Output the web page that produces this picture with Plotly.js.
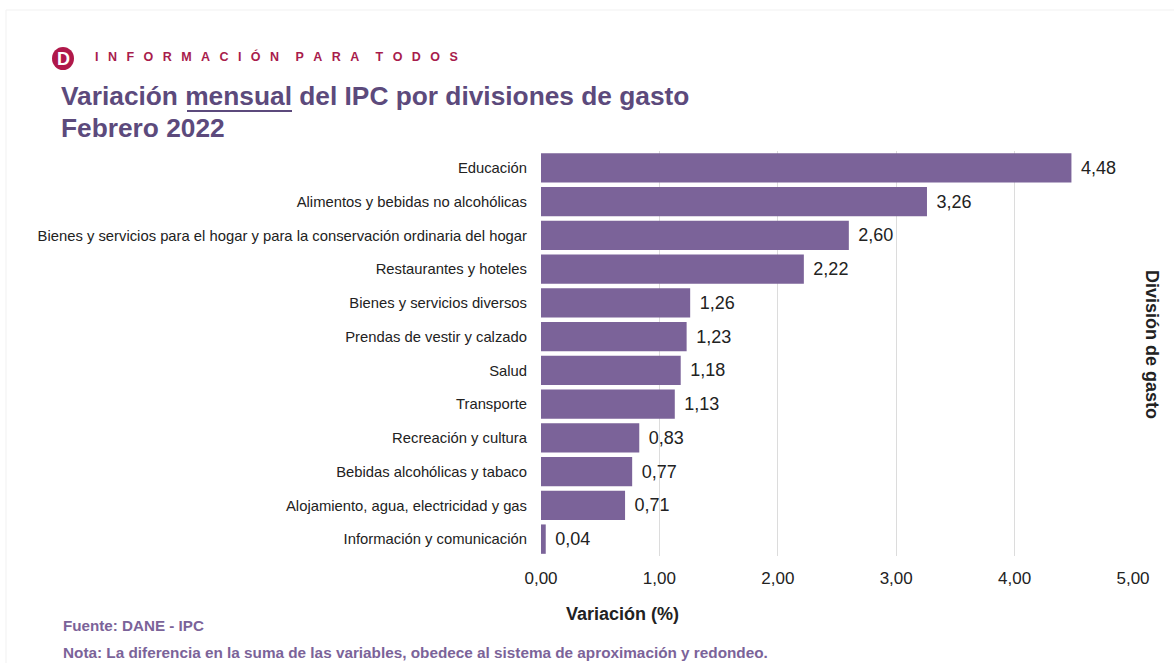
<!DOCTYPE html>
<html><head><meta charset="utf-8">
<script src="https://cdn.plot.ly/plotly-3.0.1.min.js"></script>
<style>html,body{margin:0;padding:0;background:#fff}#c{width:1174px;height:663px}</style>
</head><body><div id="c"></div>
<script>
const categories = ["Educación","Alimentos y bebidas no alcohólicas","Bienes y servicios para el hogar y para la conservación ordinaria del hogar","Restaurantes y hoteles","Bienes y servicios diversos","Prendas de vestir y calzado","Salud","Transporte","Recreación y cultura","Bebidas alcohólicas y tabaco","Alojamiento, agua, electricidad y gas","Información y comunicación"];
const values = [4.48,3.26,2.60,2.22,1.26,1.23,1.18,1.13,0.83,0.77,0.71,0.04];
const xTicks = [0,1,2,3,4,5];
const FONT = "Liberation Sans, Arial, sans-serif";
const W=1174,H=663,L=541,R=41,T=151,B=107;
const px=x=>(x-L)/(W-L-R), py=y=>1-(y-T)/(H-T-B);
function note(text,x,y,size,color,extra){return Object.assign({xref:"paper",yref:"paper",x:px(x),y:py(y),text:text,showarrow:false,xanchor:"left",yanchor:"middle",font:{family:FONT,size:size,color:color}},extra||{});}
const gap="\u00A0\u00A0\u2009";
const spaced=s=>s.split(" ").map(w=>w.split("").join(gap)).join(gap+"\u00A0\u00A0");
const layout = {
  width:W,height:H,paper_bgcolor:"#fff",plot_bgcolor:"#fff",showlegend:false,
  margin:{l:L,r:R,t:T,b:B,pad:0},
  separators:",.",bargap:0.13,
  xaxis:{range:[0,5],tickvals:xTicks,tickformat:".2f",showgrid:true,gridcolor:"#dcdcdc",gridwidth:1.3,zeroline:false,showline:false,ticks:"",ticklabelstandoff:10,tickfont:{family:FONT,size:17,color:"#222"}},
  yaxis:{type:"category",autorange:"reversed",showgrid:false,zeroline:false,showline:false,ticks:"",ticklabelstandoff:13,tickfont:{family:FONT,size:14.8,color:"#222"}},
  shapes:[
    {type:"line",xref:"paper",yref:"paper",x0:px(6),x1:px(W),y0:py(10),y1:py(10),line:{color:"#f1f1f1",width:1},layer:"below"},
    {type:"line",xref:"paper",yref:"paper",x0:px(6),x1:px(6),y0:py(10),y1:py(H),line:{color:"#f1f1f1",width:1},layer:"below"},
    {type:"circle",xref:"paper",yref:"paper",x0:px(52),x1:px(74),y0:py(47),y1:py(70),fillcolor:"#b0184a",line:{width:0}},
    {type:"line",xref:"paper",yref:"paper",x0:px(187),x1:px(292),y0:py(111),y1:py(111),line:{color:"#5c4a7c",width:2}}
  ],
  annotations:[
    note("<b>D</b>",63,58.5,18,"#fff",{xanchor:"center"}),
    note("<b>"+spaced("INFORMACIÓN PARA TODOS")+"</b>",93,56,12.5,"#a81c4c",{}),
    note("<b>Variación mensual del IPC por divisiones de gasto</b>",59,96,26.3,"#5c4a7c",{}),
    note("<b>Febrero 2022</b>",59,128,26.3,"#5c4a7c",{}),
    note("<b>Variación (%)</b>",622,614,18,"#222",{xanchor:"center"}),
    note("<b>División de gasto</b>",1152,344,18,"#222",{xanchor:"center",textangle:90}),
    note("<b>Fuente: DANE - IPC</b>",61,625,15.2,"#7b6399",{}),
    note("<b>Nota: La diferencia en la suma de las variables, obedece al sistema de aproximación y redondeo.</b>",61,652,15.3,"#7b6399",{})
  ]
};
const trace = {type:"bar",orientation:"h",y:categories,x:values,
  marker:{color:"#7b6399",line:{width:0}},
  text:values.map(v=>" \u200A"+v.toFixed(2).replace(".",",")),textposition:"outside",cliponaxis:false,
  textfont:{family:FONT,size:18,color:"#222"},hoverinfo:"skip"};
Plotly.newPlot("c",[trace],layout,{displayModeBar:false,staticPlot:true});
</script></body></html>
